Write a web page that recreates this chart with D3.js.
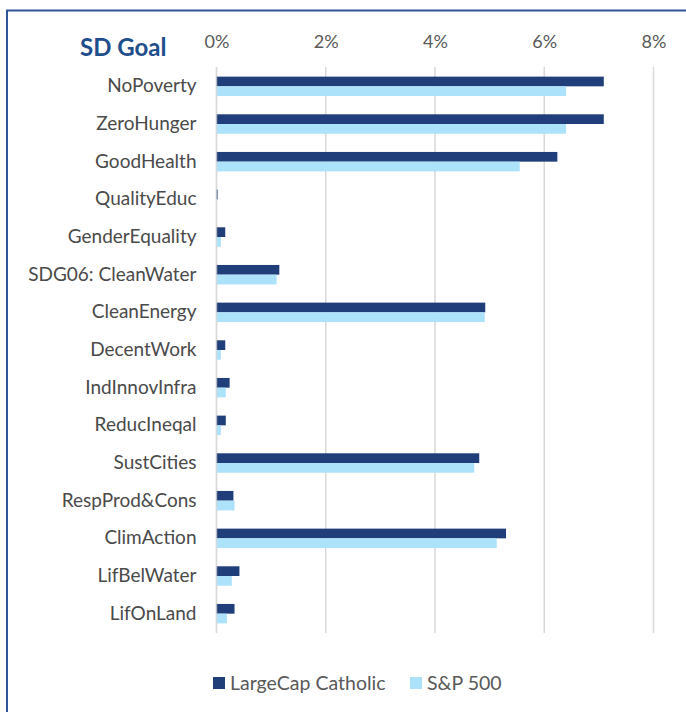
<!DOCTYPE html>
<html>
<head>
<meta charset="utf-8">
<script src="https://cdn.jsdelivr.net/npm/d3@7"></script>
<style>
  body { margin: 0; background: #fff; }
  svg { display: block; font-family: Lato, "Open Sans", sans-serif; }
</style>
</head>
<body>
<div id="svgDiv"></div>
<script>
// categories, top to bottom
var goals = ["NoPoverty", "ZeroHunger", "GoodHealth", "QualityEduc", "GenderEquality",
             "SDG06: CleanWater", "CleanEnergy", "DecentWork", "IndInnovInfra", "ReducIneqal",
             "SustCities", "RespProd&Cons", "ClimAction", "LifBelWater", "LifOnLand"];
// values in percent
var catholicValues = [7.09, 7.09, 6.24, 0.02, 0.16, 1.15, 4.92, 0.16, 0.24, 0.17, 4.81, 0.31, 5.30, 0.42, 0.33];
var spValues       = [6.40, 6.40, 5.55, 0.00, 0.08, 1.10, 4.91, 0.08, 0.17, 0.08, 4.72, 0.33, 5.13, 0.28, 0.19];
var seriesNames = ["LargeCap Catholic", "S&P 500"];
var tickValues = [0, 2, 4, 6, 8];

var width = 686, height = 712;
var colors = ["#203f7a", "#ade2fb"];

var svg = d3.select("#svgDiv").append("svg")
            .attr("width", width)
            .attr("height", height);

// frame (only top and left edges visible in picture)
svg.append("path")
   .attr("d", "M7,712 L7,10.5 L686,10.5")
   .attr("fill", "none")
   .attr("stroke", "#2f5597")
   .attr("stroke-width", 2);

var x = d3.scaleLinear().domain([0, 8]).range([216.5, 653.5]);
var y = d3.scaleBand().domain(goals).range([67.5, 632.5]).paddingInner(0).paddingOuter(0);
var inner = d3.scaleBand().domain([0, 1]).range([0, y.bandwidth()]).paddingInner(0).paddingOuter(0.94);

// gridlines
svg.append("g").selectAll("line")
   .data(tickValues)
   .join("line")
   .attr("x1", function(d){ return x(d); })
   .attr("x2", function(d){ return x(d); })
   .attr("y1", 67)
   .attr("y2", 633)
   .attr("stroke", "#d9d9d9")
   .attr("stroke-width", 1.5);

// top axis labels
var xAxis = d3.axisTop(x).tickValues(tickValues).tickSize(0).tickPadding(0)
              .tickFormat(function(d){ return d + "%"; });
var ax = svg.append("g")
            .attr("transform", "translate(0,48)")
            .call(xAxis);
ax.select(".domain").remove();
ax.selectAll("text")
  .attr("fill", "#595959")
  .attr("font-size", 18)
  .attr("font-family", "Lato, sans-serif");

// title
svg.append("text")
   .attr("x", 80)
   .attr("y", 56)
   .attr("fill", "#1f4e8c")
   .attr("font-size", 24)
   .attr("font-weight", "bold")
   .text("SD Goal");

// category labels
var yAxis = d3.axisLeft(y).tickSize(0).tickPadding(20);
var ay = svg.append("g")
            .attr("transform", "translate(216.5,0)")
            .call(yAxis);
ay.select(".domain").remove();
ay.selectAll("text")
  .attr("fill", "#4a4a4a")
  .attr("font-size", 19)
  .attr("font-family", "Lato, sans-serif");

// bars
var series = [catholicValues, spValues];
series.forEach(function(vals, s){
  svg.append("g").selectAll("rect")
     .data(vals)
     .join("rect")
     .attr("x", x(0))
     .attr("y", function(d, i){ return y(goals[i]) + inner(s); })
     .attr("width", function(d){ return x(d) - x(0); })
     .attr("height", inner.bandwidth())
     .attr("fill", colors[s]);
});

// 0 axis line over bars
svg.append("line")
   .attr("x1", x(0)).attr("x2", x(0))
   .attr("y1", 67).attr("y2", 633)
   .attr("stroke", "#d9d9d9")
   .attr("stroke-width", 1.5)
   .attr("opacity", 0.6);

// legend
var legendX = [213, 410];
var legend = svg.append("g");
seriesNames.forEach(function(name, s){
  legend.append("rect")
        .attr("x", legendX[s])
        .attr("y", 677)
        .attr("width", 12)
        .attr("height", 12)
        .attr("fill", colors[s]);
  legend.append("text")
        .attr("x", legendX[s] + 17)
        .attr("y", 690)
        .attr("fill", "#595959")
        .attr("font-size", 19.5)
        .text(name);
});
</script>
</body>
</html>
